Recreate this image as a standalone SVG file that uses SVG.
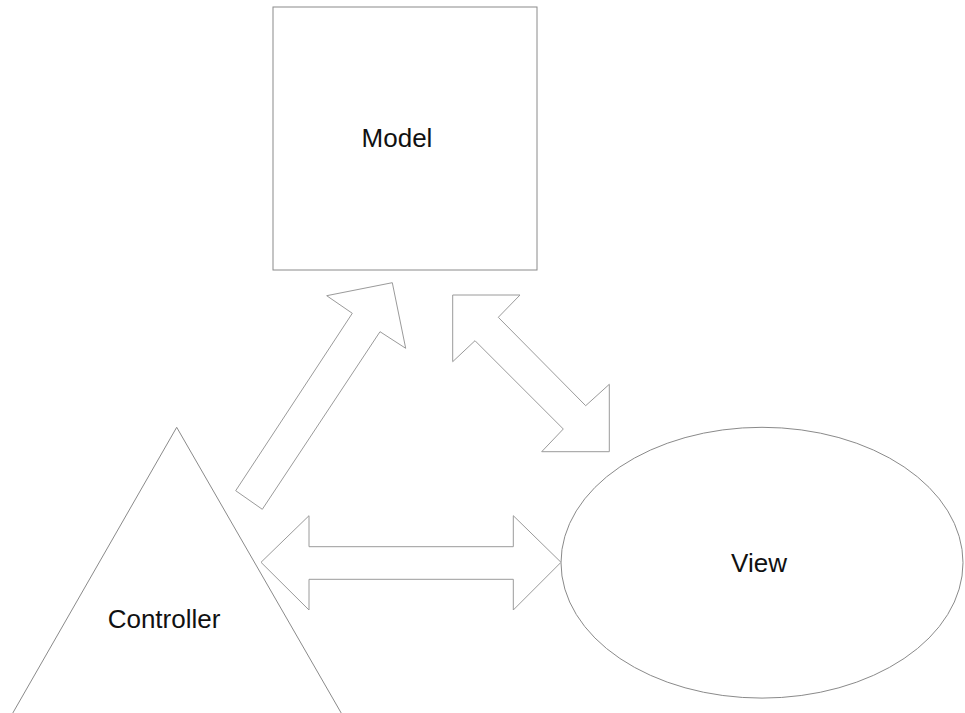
<svg xmlns="http://www.w3.org/2000/svg" width="965" height="713" viewBox="0 0 965 713">
<style>
.shape{fill:#fff;stroke:#8a8a8a;stroke-width:1}
.arrow{fill:#fff;stroke:#9a9a9a;stroke-width:1;stroke-linejoin:miter}
.label{font-family:"Liberation Sans",Arial,sans-serif;font-size:26px;fill:#111;text-anchor:middle}
</style>
<rect width="965" height="713" fill="#fff"/>
<g id="model">
<rect class="shape" x="273" y="7" width="264" height="263" stroke="#aaa"/>
<text class="label" x="397" y="147">Model</text>
</g>
<g id="controller">
<polygon class="shape" points="176.7,427.3 10.5,717 343.5,717"/>
<text class="label" x="164" y="628">Controller</text>
</g>
<g id="view">
<ellipse class="shape" cx="762" cy="562.7" rx="201" ry="135.4"/>
<text class="label" x="759" y="572">View</text>
</g>
<g id="connectors">
<polygon class="arrow" points="235.7,490.7 262.3,509.3 380,331.7 405.7,348.3 392.3,282.7 326.7,295.7 352.3,313.3"/>
<polygon class="arrow" points="452.7,295 520,295 498.3,317.3 585.7,405.7 609.3,384.3 609.3,451.7 541.7,451.7 563.3,429 475,340.7 452.7,361.7"/>
<polygon class="arrow" points="261,562.3 309,515.7 309,546.7 513.3,546.7 513.3,515.7 561,562.3 513.3,610 513.3,579.3 309,579.3 309,610"/>
</g>
</svg>
